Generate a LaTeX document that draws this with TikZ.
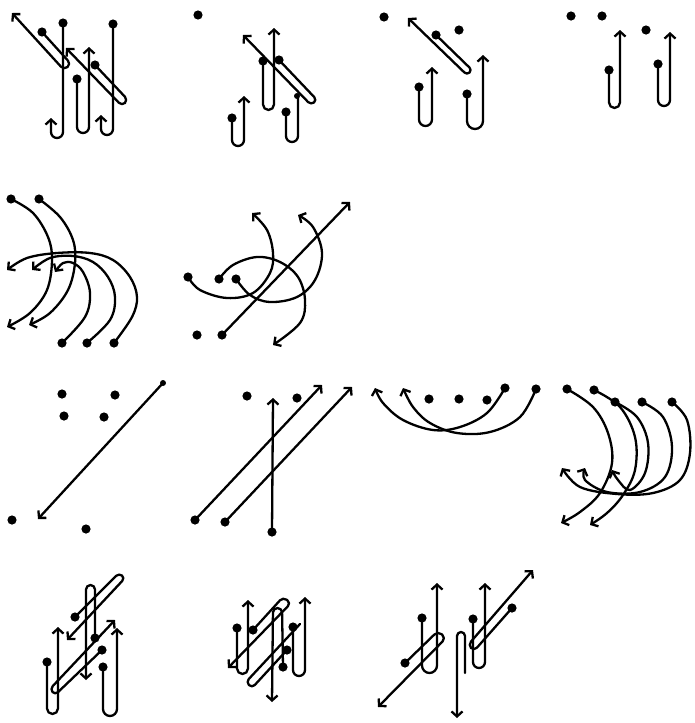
\documentclass[tikz,border=0pt]{standalone}
\usetikzlibrary{arrows.meta}
\tikzset{
  ln/.style={line width=2.3pt, line cap=round, line join=round},
  arr/.style={ln, -{Straight Barb[length=5pt,width=11pt]}},
  hp/.style={arr, rounded corners=#1},
  hp/.default=5.5pt,
}
\newcommand{\dt}[2]{\fill (#1,#2) circle (4.6);}
\newcommand{\sdt}[2]{\fill (#1,#2) circle (3);}
\begin{document}
\begin{tikzpicture}[x=1pt,y=-1pt]
\useasboundingbox (0,0) rectangle (695,723);
% ---------- panel 1
\draw[hp=4.5pt] (42,32) -- (71,64) -- (64,70) -- (12,13);
\draw[hp=4.5pt] (95,65) -- (128,100) -- (122,106) -- (66,48);
\draw[hp=6pt] (63,24) -- (63,138) -- (51,138) -- (51,118);
\draw[hp=6pt] (77,79) -- (77,133) -- (89,133) -- (89,47);
\draw[hp=6pt] (113,25) -- (113,135) -- (101,135) -- (101,115);
\dt{42}{32}\dt{63}{23}\dt{77}{79}\dt{95}{65}\dt{113}{24}
% ---------- panel 2
\dt{198}{15}
\draw[hp=4pt] (279,60) -- (317,100) -- (311,105) -- (243,35);
\draw[hp=5.5pt] (263,61) -- (263,110) -- (274,110) -- (274,28);
\draw[hp=6pt] (232,118) -- (232,146) -- (244,146) -- (244,96);
\draw[hp=6pt,-] (286,112) -- (286,142) -- (298,142) -- (298,97);
\dt{279}{60}\dt{263}{61}\dt{232}{118}\dt{286}{112}\sdt{297}{96}
% ---------- panel 3
\dt{384}{17}\dt{459}{30}
\draw[hp=3.5pt] (436,35) -- (472,70) -- (467,75) -- (408,18);
\draw[hp=6.5pt] (419,87) -- (419,126) -- (432,126) -- (432,67);
\draw[hp=8pt] (467,94) -- (467,129) -- (483,129) -- (483,55);
\dt{436}{35}\dt{419}{87}\dt{467}{94}
% ---------- panel 4
\dt{571}{16}\dt{602}{16}\dt{646}{30}
\draw[hp=5.5pt] (609,70) -- (609,108) -- (620,108) -- (620,30);
\draw[hp=6pt] (658,64) -- (658,106) -- (670,106) -- (670,32);
\dt{609}{70}\dt{658}{64}
% ---------- panel 5
\draw[arr] plot[smooth,tension=0.6] coordinates {(11,199) (33,213) (48,237) (52,260) (47,290) (30,313) (7,327)};
\draw[arr] plot[smooth,tension=0.6] coordinates {(39,199) (60,217) (73,240) (75,263) (68,290) (50,313) (29,325)};
\draw[arr] plot[smooth,tension=0.6] coordinates {(114,343) (132,317) (137,297) (130,277) (113,260) (90,253) (57,253) (27,258) (7,270)};
\draw[arr] plot[smooth,tension=0.6] coordinates {(87,343) (110,320) (115,297) (108,277) (93,262) (73,256) (50,258) (32,270)};
\draw[arr] plot[smooth,tension=0.6] coordinates {(62,343) (85,317) (90,293) (83,272) (73,263) (63,263) (55,272)};
\dt{11}{199}\dt{39}{199}\dt{62}{343}\dt{87}{343}\dt{114}{343}
% ---------- panel 6
\draw[arr] (222,335) -- (350,202);
\draw[arr] plot[smooth,tension=0.6] coordinates {(188,277) (200,290) (227,298) (253,293) (270,273) (273,253) (267,230) (252,213)};
\draw[arr] plot[smooth,tension=0.6] coordinates {(219,279) (233,265) (257,257) (280,262) (298,277) (305,300) (300,323) (273,345)};
\draw[arr] plot[smooth,tension=0.6] coordinates {(236,279) (250,295) (270,302) (297,297) (315,280) (322,253) (313,227) (298,215)};
\dt{188}{277}\dt{219}{279}\dt{236}{279}\dt{197}{335}\dt{222}{335}
% ---------- panel 7
\dt{62}{394}\dt{115}{395}\dt{64}{416}\dt{104}{417}\dt{12}{520}\dt{86}{529}
\draw[arr] (163,383) -- (38,519);
\sdt{163}{383}
% ---------- panel 8
\dt{247}{396}\dt{297}{398}
\draw[arr] (195,520) -- (322,385);
\draw[arr] (225,522) -- (352,387);
\draw[arr] (272,532) -- (273,398);
\dt{195}{520}\dt{225}{522}\dt{272}{532}
% ---------- panel 9
\dt{429}{399}\dt{459}{399}\dt{487}{400}
\draw[arr] plot[smooth,tension=0.6] coordinates {(505,388) (487,413) (460,427) (433,430) (403,420) (383,403) (375,388)};
\draw[arr] plot[smooth,tension=0.6] coordinates {(536,389) (520,417) (490,432) (457,433) (430,423) (413,407) (403,388)};
\dt{505}{388}\dt{536}{389}
% ---------- panel 10
\draw[arr] plot[smooth,tension=0.6] coordinates {(567,389) (593,407) (608,433) (612,463) (600,493) (580,512) (561,523)};
\draw[arr] plot[smooth,tension=0.6] coordinates {(594,390) (620,407) (635,437) (635,470) (623,495) (607,513) (590,525)};
\draw[arr] plot[smooth,tension=0.6] coordinates {(615,402) (637,417) (648,443) (645,473) (630,490) (618,480) (612,470)};
\draw[arr] plot[smooth,tension=0.6] coordinates {(642,402) (663,417) (672,447) (665,477) (640,492) (607,492) (585,480) (585,468)};
\draw[arr] plot[smooth,tension=0.6] coordinates {(672,402) (687,420) (690,453) (680,480) (653,493) (617,494) (580,487) (562,468)};
\dt{567}{389}\dt{594}{390}\dt{615}{402}\dt{642}{402}\dt{672}{402}
% ---------- panel 11
\draw[hp=4pt] (75,617) -- (119,573) -- (125,578) -- (67,640);
\draw[hp=4.5pt] (95,638) -- (95,585) -- (86,585) -- (86,680);
\draw[hp=5.5pt] (47,662) -- (47,714) -- (58,714) -- (58,627);
\draw[hp=7pt] (103,667) -- (103,716) -- (117,716) -- (117,628);
\draw[hp=4pt] (102,650) -- (55,695) -- (50,689) -- (115,620);
\dt{75}{617}\dt{95}{638}\dt{47}{662}\dt{103}{667}\dt{102}{650}
% ---------- panel 12 left
\draw[hp=5.5pt] (237,628) -- (237,674) -- (248,674) -- (248,600);
\draw[hp=4.5pt] (253,630) -- (283,597) -- (291,603) -- (228,668);
\draw[hp=4.5pt] (283,667) -- (282,608) -- (273,608) -- (272,702);
\draw[hp=4pt,-] (287,650) -- (252,688) -- (246,682) -- (300,624);
\draw[hp=6pt] (293,627) -- (293,676) -- (305,676) -- (305,597);
\dt{237}{628}\dt{253}{630}\dt{283}{667}\dt{287}{650}\dt{293}{627}
% ---------- panel 12 right
\draw[hp=5pt] (405,663) -- (438,631) -- (446,638) -- (378,707);
\draw[hp=7.5pt] (422,618) -- (422,673) -- (437,673) -- (437,583);
\draw[hp=4pt] (465,673) -- (465,632) -- (457,632) -- (457,718);
\draw[hp=6pt] (473,619) -- (473,668) -- (485,668) -- (485,583);
\draw[hp=4.5pt] (512,608) -- (474,651) -- (468,645) -- (533,570);
\dt{405}{663}\dt{422}{618}\dt{473}{619}\dt{512}{608}
\end{tikzpicture}
\end{document}
